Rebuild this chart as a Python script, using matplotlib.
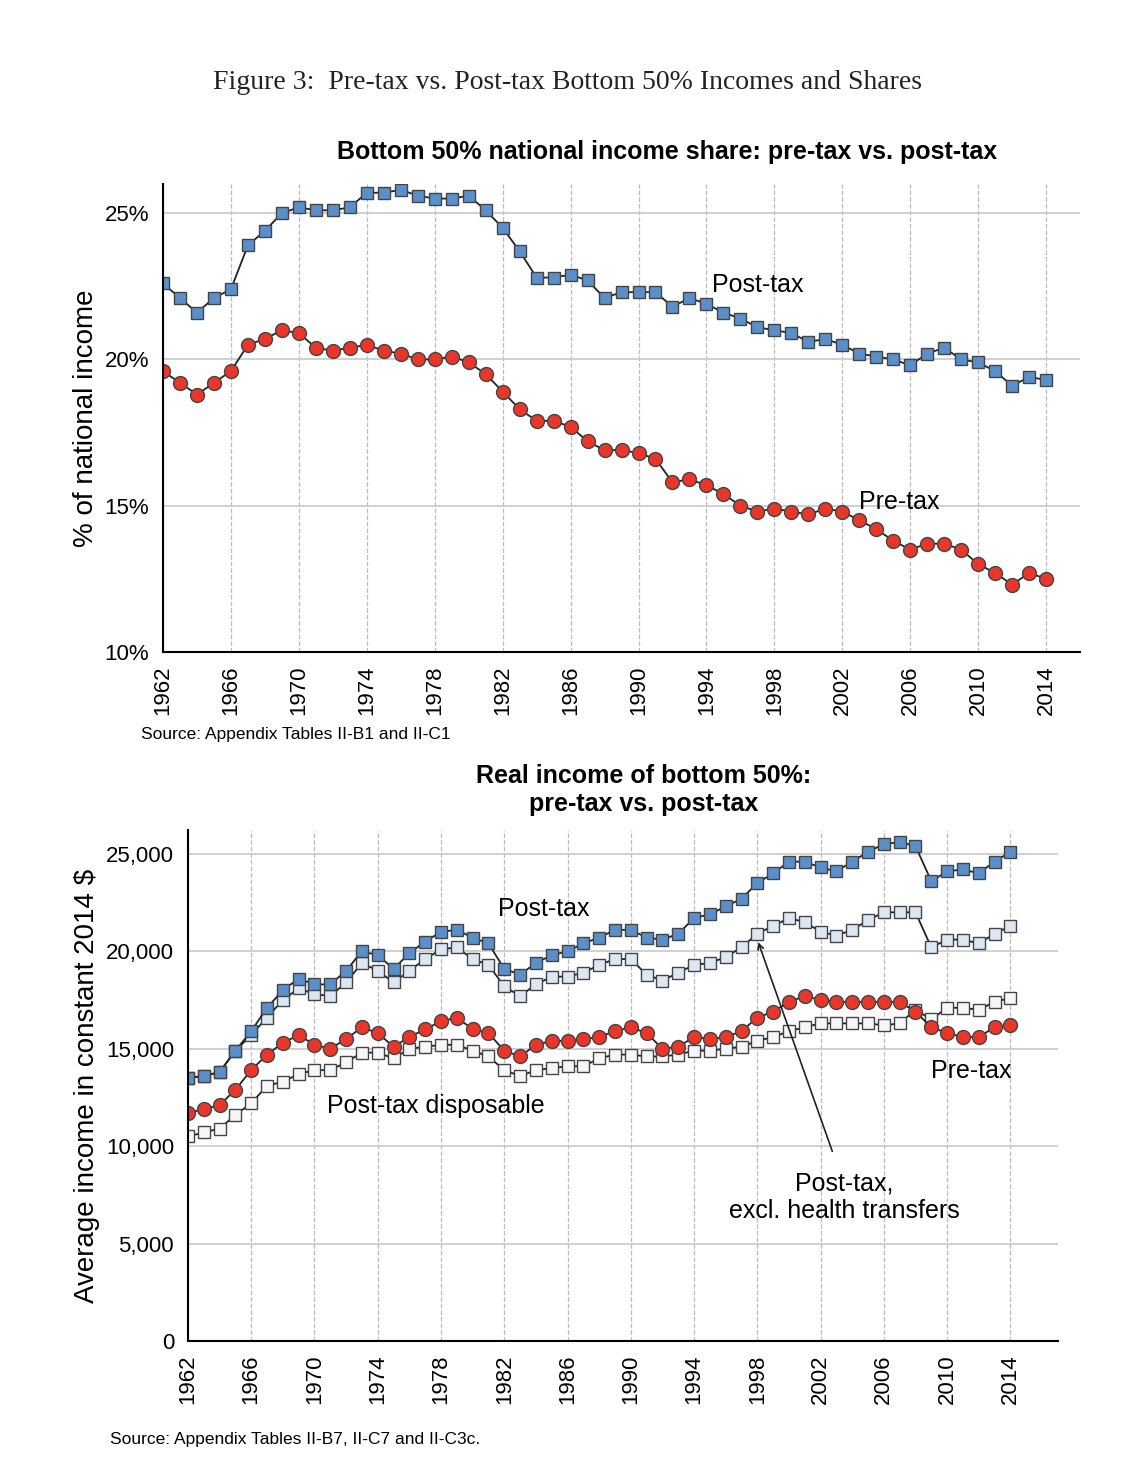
import numpy as np
import matplotlib.pyplot as plt

plt.rcParams["font.family"] = ["Liberation Sans", "DejaVu Sans"]

years = np.arange(1962, 2015)

# top panel: bottom 50% share of national income (%)
share_post = [22.6, 22.1, 21.6, 22.1, 22.4, 23.9, 24.4, 25.0, 25.2, 25.1, 25.1, 25.2, 25.7, 25.7,
              25.8, 25.6, 25.5, 25.5, 25.6, 25.1, 24.5, 23.7, 22.8, 22.8, 22.9, 22.7, 22.1, 22.3,
              22.3, 22.3, 21.8, 22.1, 21.9, 21.6, 21.4, 21.1, 21.0, 20.9, 20.6, 20.7, 20.5, 20.2,
              20.1, 20.0, 19.8, 20.2, 20.4, 20.0, 19.9, 19.6, 19.1, 19.4, 19.3]
share_pre = [19.6, 19.2, 18.8, 19.2, 19.6, 20.5, 20.7, 21.0, 20.9, 20.4, 20.3, 20.4, 20.5, 20.3,
             20.2, 20.0, 20.0, 20.1, 19.9, 19.5, 18.9, 18.3, 17.9, 17.9, 17.7, 17.2, 16.9, 16.9,
             16.8, 16.6, 15.8, 15.9, 15.7, 15.4, 15.0, 14.8, 14.9, 14.8, 14.7, 14.9, 14.8, 14.5,
             14.2, 13.8, 13.5, 13.7, 13.7, 13.5, 13.0, 12.7, 12.3, 12.7, 12.5]

# bottom panel: real income, thousands of 2014 $
inc_post = [13.5, 13.6, 13.8, 14.9, 15.9, 17.1, 18.0, 18.6, 18.3, 18.3, 19.0, 20.0, 19.8, 19.1,
            19.9, 20.5, 21.0, 21.1, 20.7, 20.4, 19.1, 18.8, 19.4, 19.8, 20.0, 20.4, 20.7, 21.1,
            21.1, 20.7, 20.6, 20.9, 21.7, 21.9, 22.3, 22.7, 23.5, 24.0, 24.6, 24.6, 24.3, 24.1,
            24.6, 25.1, 25.5, 25.6, 25.4, 23.6, 24.1, 24.2, 24.0, 24.6, 25.1]
inc_post_nohealth = [13.5, 13.6, 13.8, 14.9, 15.7, 16.6, 17.5, 18.1, 17.8, 17.7, 18.4, 19.4, 19.0,
                     18.4, 19.0, 19.6, 20.1, 20.2, 19.6, 19.3, 18.2, 17.7, 18.3, 18.7, 18.7, 18.9,
                     19.3, 19.6, 19.6, 18.8, 18.5, 18.9, 19.3, 19.4, 19.7, 20.2, 20.9, 21.3, 21.7,
                     21.5, 21.0, 20.8, 21.1, 21.6, 22.0, 22.0, 22.0, 20.2, 20.6, 20.6, 20.4, 20.9, 21.3]
inc_pre = [11.7, 11.9, 12.1, 12.9, 13.9, 14.7, 15.3, 15.7, 15.2, 15.0, 15.5, 16.1, 15.8, 15.1,
           15.6, 16.0, 16.4, 16.6, 16.0, 15.8, 14.9, 14.6, 15.2, 15.4, 15.4, 15.5, 15.6, 15.9,
           16.1, 15.8, 15.0, 15.1, 15.6, 15.5, 15.6, 15.9, 16.6, 16.9, 17.4, 17.7, 17.5, 17.4,
           17.4, 17.4, 17.4, 17.4, 16.9, 16.1, 15.8, 15.6, 15.6, 16.1, 16.2]
inc_disp = [10.5, 10.7, 10.9, 11.6, 12.2, 13.1, 13.3, 13.7, 13.9, 13.9, 14.3, 14.8, 14.8, 14.5,
            15.0, 15.1, 15.2, 15.2, 14.9, 14.6, 13.9, 13.6, 13.9, 14.0, 14.1, 14.1, 14.5, 14.7,
            14.7, 14.6, 14.6, 14.7, 14.9, 14.9, 15.0, 15.1, 15.4, 15.6, 15.9, 16.1, 16.3, 16.3,
            16.3, 16.3, 16.2, 16.3, 17.0, 16.5, 17.1, 17.1, 17.0, 17.4, 17.6]

tick_years = np.arange(1962, 2015, 4)
BLUE = "#5b8fc9"
RED = "#e8372a"
LIGHT = "#dbe7f3"

fig = plt.figure(figsize=(11.35, 14.67), dpi=100)
fig.text(0.5, 0.939, "Figure 3:  Pre-tax vs. Post-tax Bottom 50% Incomes and Shares",
         ha="center", fontsize=20, family="Liberation Serif", color="#222")


def style(ax):
    for s in ("top", "right"):
        ax.spines[s].set_visible(False)
    ax.spines["left"].set_linewidth(1.5)
    ax.spines["bottom"].set_linewidth(1.5)
    ax.set_xticks(tick_years)
    ax.set_xticklabels([str(y) for y in tick_years], rotation=90, fontsize=16)
    ax.tick_params(axis="y", labelsize=16, length=0, pad=10)
    ax.tick_params(axis="x", length=0, pad=10)
    ax.grid(axis="y", color="#c8c8c8", linewidth=1.2)
    for y in tick_years:
        ax.axvline(y, color="#bbbbbb", linestyle="--", linewidth=0.9, zorder=0)
    ax.set_axisbelow(True)


mk = dict(markeredgecolor="#444", markeredgewidth=1.0, color="#222", linewidth=1.3)

ax1 = fig.add_axes([0.1436, 0.5556, 0.808, 0.319])
ax1.plot(years, share_post, marker="s", markersize=9, markerfacecolor=BLUE, **mk)
ax1.plot(years, share_pre, marker="o", markersize=10, markerfacecolor=RED, **mk)
ax1.set_xlim(1962, 2016)
ax1.set_ylim(10, 26)
ax1.set_yticks([10, 15, 20, 25])
ax1.set_yticklabels(["10%", "15%", "20%", "25%"])
style(ax1)
ax1.set_ylabel("% of national income", fontsize=20)
ax1.set_title("Bottom 50% national income share: pre-tax vs. post-tax",
              fontsize=18, fontweight="bold", pad=18, x=0.55)
ax1.text(1994.3, 22.3, "Post-tax", fontsize=18)
ax1.text(2003, 14.9, "Pre-tax", fontsize=18)
fig.text(0.124, 0.496, "Source: Appendix Tables II-B1 and II-C1", fontsize=12.5)

ax2 = fig.add_axes([0.1656, 0.0859, 0.7664, 0.348])
ax2.plot(years, inc_disp, marker="s", markersize=9, markerfacecolor="#f4f6f8", **mk)
ax2.plot(years, inc_pre, marker="o", markersize=10, markerfacecolor=RED, **mk)
ax2.plot(years, inc_post_nohealth, marker="s", markersize=9, markerfacecolor=LIGHT, **mk)
ax2.plot(years, inc_post, marker="s", markersize=9, markerfacecolor=BLUE, **mk)
ax2.set_xlim(1962, 2017)
ax2.set_ylim(0, 26.2)
ax2.set_yticks([0, 5, 10, 15, 20, 25])
ax2.set_yticklabels(["0", "5,000", "10,000", "15,000", "20,000", "25,000"])
style(ax2)
ax2.set_ylabel("Average income in constant 2014 $", fontsize=20)
ax2.set_title("Real income of bottom 50%:\npre-tax vs. post-tax",
              fontsize=18, fontweight="bold", pad=14, x=0.524, linespacing=1.2)
ax2.text(1984.5, 21.8, "Post-tax", fontsize=18, ha="center")
ax2.text(1970.8, 11.7, "Post-tax disposable", fontsize=18)
ax2.text(2011.5, 13.5, "Pre-tax", fontsize=18, ha="center")
ax2.text(2003.5, 6.3, "Post-tax,\nexcl. health transfers", fontsize=18, ha="center",
         linespacing=1.2)
ax2.annotate("", xy=(1998, 20.6), xytext=(2002.8, 9.6),
             arrowprops=dict(arrowstyle="->", color="#222", lw=1.2))
fig.text(0.097, 0.016, "Source: Appendix Tables II-B7, II-C7 and II-C3c.", fontsize=12.5)

fig.savefig("out.png", dpi=100)
